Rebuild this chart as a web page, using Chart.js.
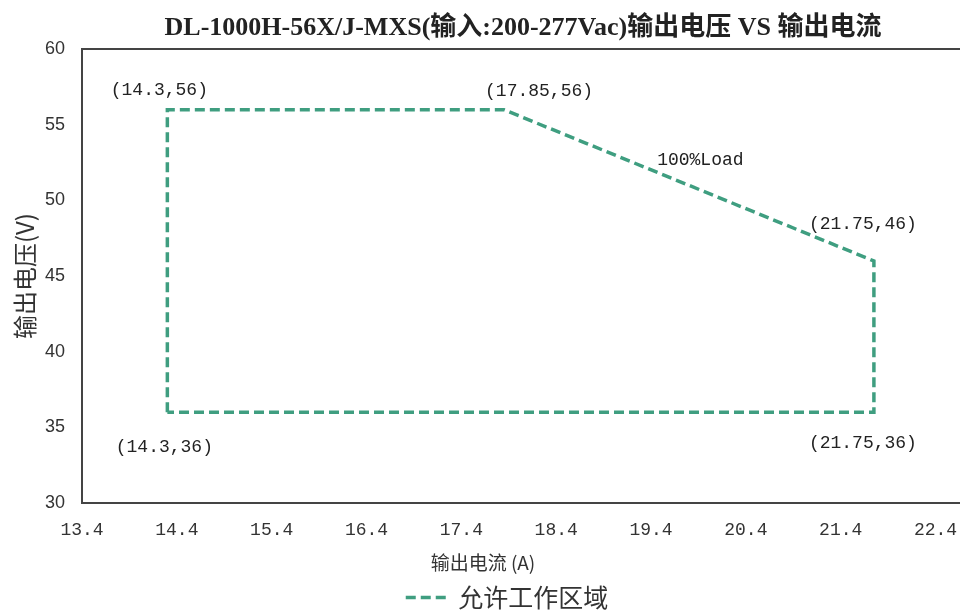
<!DOCTYPE html>
<html><head><meta charset="utf-8">
<script src="https://cdn.jsdelivr.net/npm/chart.js@4.4.1/dist/chart.umd.min.js"></script>
<style>
html,body{margin:0;padding:0;background:#fff;overflow:hidden;width:960px;height:610px}
#wrap{position:relative;width:1014px;height:610px}
</style></head>
<body><div id="wrap"><canvas id="c" width="1014" height="610"></canvas></div>
<script>
const chartTitle = 'DL-1000H-56X/J-MXS(输入:200-277Vac)输出电压 VS 输出电流';
const xAxisTitle = '输出电流 (A)';
const yAxisTitle = '输出电压(V)';
const seriesName = '允许工作区域';
const currentA = [14.3, 14.3, 17.85, 21.75, 21.75, 14.3];
const voltageV = [36, 56, 56, 46, 36, 36];
const xTickValues = [13.4, 14.4, 15.4, 16.4, 17.4, 18.4, 19.4, 20.4, 21.4, 22.4];
const yTickValues = [30, 35, 40, 45, 50, 55, 60];
const cornerX = [14.3, 17.85, 21.75, 21.75, 14.3];
const cornerY = [56, 56, 46, 36, 36];
const cornerText = ['(14.3,56)', '(17.85,56)', '(21.75,46)', '(21.75,36)', '(14.3,36)'];
const noteText = '100%Load';
const noteX = 19.92;
const noteY = 52.65;

const lineColor = '#3F9E80';
const labelOffsets = [[-8, -19], [35, -18], [-11, -37], [-11, 31], [-3, 35]];
const monoFont = '"Liberation Mono", "DejaVu Sans Mono", monospace';
const cjkFont = '"Noto Sans CJK SC", sans-serif';

const extraText = {
  id: 'extraText',
  afterDatasetsDraw(chart) {
    const {ctx, chartArea} = chart;
    const x = chart.scales.x, y = chart.scales.y;
    ctx.save();
    ctx.font = '18px ' + monoFont;
    ctx.fillStyle = '#222';
    ctx.textAlign = 'center';
    ctx.textBaseline = 'middle';
    cornerText.forEach((t, i) => {
      ctx.fillText(t, x.getPixelForValue(cornerX[i]) + labelOffsets[i][0],
                      y.getPixelForValue(cornerY[i]) + labelOffsets[i][1]);
    });
    ctx.fillText(noteText, x.getPixelForValue(noteX), y.getPixelForValue(noteY));
    ctx.font = '19px ' + cjkFont;
    ctx.fillStyle = '#333';
    ctx.fillText(xAxisTitle, chartArea.left + 0.4546 * (chartArea.right - chartArea.left), chartArea.bottom + 60);
    ctx.restore();
  }
};

const points = currentA.map((v, i) => ({x: v, y: voltageV[i]}));

new Chart(document.getElementById('c'), {
  type: 'scatter',
  data: {
    datasets: [{
      label: seriesName,
      data: points,
      showLine: true,
      borderColor: lineColor,
      backgroundColor: lineColor,
      borderWidth: 3.5,
      borderDash: [10, 5],
      borderJoinStyle: 'miter',
      pointRadius: 0,
      pointHoverRadius: 0,
      pointStyle: 'line',
      tension: 0,
      fill: false,
      xAxisID: 'x',
      yAxisID: 'y'
    }]
  },
  options: {
    responsive: false,
    animation: false,
    devicePixelRatio: 1,
    layout: {padding: {left: 0, right: 0, top: 0, bottom: -10}},
    plugins: {
      tooltip: {enabled: false},
      title: {
        display: true,
        text: chartTitle,
        fullSize: false,
        color: '#222',
        font: {family: '"Liberation Serif", "Noto Sans CJK SC", serif', size: 26, weight: 'bold'},
        padding: {top: 13, bottom: 5}
      },
      legend: {
        position: 'bottom',
        labels: {
          usePointStyle: true,
          pointStyle: 'line',
          pointStyleWidth: 40,
          color: '#333',
          font: {family: cjkFont, size: 25},
          padding: 10,
          generateLabels: chart => Chart.defaults.plugins.legend.labels.generateLabels(chart).map(item => {
            const ds = chart.data.datasets[item.datasetIndex];
            return Object.assign(item, {
              lineDash: ds.borderDash,
              lineWidth: ds.borderWidth,
              strokeStyle: ds.borderColor,
              fillStyle: ds.borderColor,
              lineCap: 'butt'
            });
          })
        }
      }
    },
    scales: {
      x: {
        type: 'linear',
        position: 'bottom',
        min: 13.4,
        max: 22.7,
        afterBuildTicks: s => { s.ticks = xTickValues.map(v => ({value: v})); },
        afterFit: s => { s.height = 72; },
        grid: {display: false, drawTicks: false},
        border: {display: true, color: '#444', width: 2},
        ticks: {
          padding: 16, color: '#333', autoSkip: false, maxRotation: 0,
          font: {family: monoFont, size: 18},
          callback: v => Number(v).toFixed(1)
        }
      },
      y: {
        type: 'linear',
        position: 'left',
        min: 30,
        max: 60,
        afterBuildTicks: s => { s.ticks = yTickValues.map(v => ({value: v})); },
        afterFit: s => { s.width = 82; },
        grid: {display: false, drawTicks: false},
        border: {display: true, color: '#444', width: 2},
        ticks: {padding: 17, color: '#333', font: {family: '"Liberation Sans", Arial, sans-serif', size: 18}},
        title: {display: true, text: yAxisTitle, color: '#333', font: {family: cjkFont, size: 24}, padding: {top: 10, bottom: 0}}
      },
      xTop: {
        type: 'linear',
        position: 'top',
        afterFit: s => { s.height = 0; },
        grid: {display: false, drawTicks: false},
        border: {display: true, color: '#444', width: 2},
        ticks: {display: false}
      },
      yRight: {
        type: 'linear',
        position: 'right',
        afterFit: s => { s.width = 50; },
        grid: {display: false, drawTicks: false},
        border: {display: false},
        ticks: {display: false}
      }
    }
  },
  plugins: [extraText]
});
</script>
</body></html>
